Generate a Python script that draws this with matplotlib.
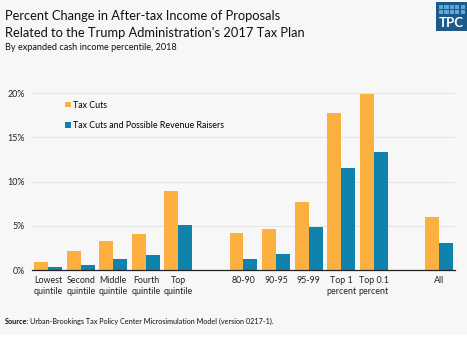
import matplotlib

matplotlib.use("Agg")
import matplotlib.pyplot as plt
from matplotlib.patches import Rectangle
import numpy as np

plt.rcParams["font.family"] = ["Lato", "DejaVu Sans"]

categories = ["Lowest\nquintile", "Second\nquintile", "Middle\nquintile", "Fourth\nquintile",
              "Top\nquintile", "80-90", "90-95", "95-99", "Top 1\npercent", "Top 0.1\npercent", "All"]
slots = [0, 1, 2, 3, 4, 6, 7, 8, 9, 10, 12]
tax_cuts = [0.9, 2.1, 3.3, 4.1, 8.9, 4.2, 4.6, 7.7, 17.8, 19.9, 6.0]
tax_cuts_rev = [0.3, 0.6, 1.3, 1.7, 5.1, 1.3, 1.8, 4.9, 11.5, 13.3, 3.1]
yticks = [0, 5, 10, 15, 20]

ORANGE = "#fbb040"
BLUE = "#1083ad"
BG = "#f7f7f7"

fig = plt.figure(figsize=(4.67, 3.45), dpi=100)
fig.patch.set_facecolor("white")
fig.add_artist(Rectangle((0, 10 / 345), 1, 1, transform=fig.transFigure,
                         facecolor=BG, edgecolor="none", zorder=-10))

ax = fig.add_axes([32 / 467, 75 / 345, 423 / 467, 185.6 / 345])
ax.set_facecolor(BG)
x = np.array(slots, dtype=float)
w = 0.43
ax.bar(x - w / 2, tax_cuts, width=w, color=ORANGE, label="Tax Cuts", zorder=3)
ax.bar(x + w / 2, tax_cuts_rev, width=w, color=BLUE,
       label="Tax Cuts and Possible Revenue Raisers", zorder=3)

ax.set_xlim(-0.5, 12.5)
ax.set_ylim(0, 21)
ax.set_yticks(yticks)
ax.set_yticklabels([f"{v}%" for v in yticks])
ax.set_xticks(x)
ax.set_xticklabels(categories, linespacing=1.3)
ax.tick_params(axis="both", length=0, labelsize=6.4, colors="#222222")
ax.tick_params(axis="y", pad=5)
ax.tick_params(axis="x", pad=4)
for v in yticks[1:]:
    ax.axhline(v, color="#e2e2e2", lw=0.6, zorder=1)
for s in ["top", "right", "left"]:
    ax.spines[s].set_visible(False)
ax.spines["bottom"].set_color("#222222")
ax.spines["bottom"].set_linewidth(0.9)
ax.spines["bottom"].set_zorder(4)

ax.legend(loc="upper left", bbox_to_anchor=(0.06, 0.955), frameon=False, fontsize=6.4,
          handlelength=0.6, handleheight=0.6, handletextpad=0.25, labelspacing=1.25)

fig.text(5 / 467, 1 - 16 / 345, "Percent Change in After-tax Income of Proposals",
         fontsize=9.3, va="center", ha="left", color="#111111")
fig.text(5 / 467, 1 - 33 / 345, "Related to the Trump Administration's 2017 Tax Plan",
         fontsize=9.3, va="center", ha="left", color="#111111")
fig.text(5 / 467, 1 - 48 / 345, "By expanded cash income percentile, 2018",
         fontsize=6.6, va="center", ha="left", color="#111111")

fig.text(5 / 467, 1 - 321 / 345, "Source:", fontsize=5.2, fontweight="bold",
         va="center", ha="left", color="#111111")
fig.text(30 / 467, 1 - 321 / 345,
         "Urban-Brookings Tax Policy Center Microsimulation Model (version 0217-1).",
         fontsize=5.2, va="center", ha="left", color="#111111")

# TPC logo
lx, ly, lw_, lh = 436 / 467, 1 - 31 / 345, 31 / 467, 29 / 345
fig.add_artist(Rectangle((lx, ly), lw_, lh, transform=fig.transFigure,
                         facecolor="#1b5a8a", edgecolor="none"))
for i in range(5):
    for j in range(2):
        fig.add_artist(Rectangle((lx + (3 + i * 5.4) / 467, 1 - (5 + j * 5) / 345 - 4 / 345),
                                 4.2 / 467, 4 / 345, transform=fig.transFigure,
                                 facecolor="#5fa9d9", edgecolor="none"))
fig.text(lx + lw_ / 2, 1 - 23 / 345, "TPC", color="white", fontsize=9.5,
         fontweight="bold", ha="center", va="center")

fig.savefig("out.png", dpi=100, facecolor=fig.get_facecolor())
